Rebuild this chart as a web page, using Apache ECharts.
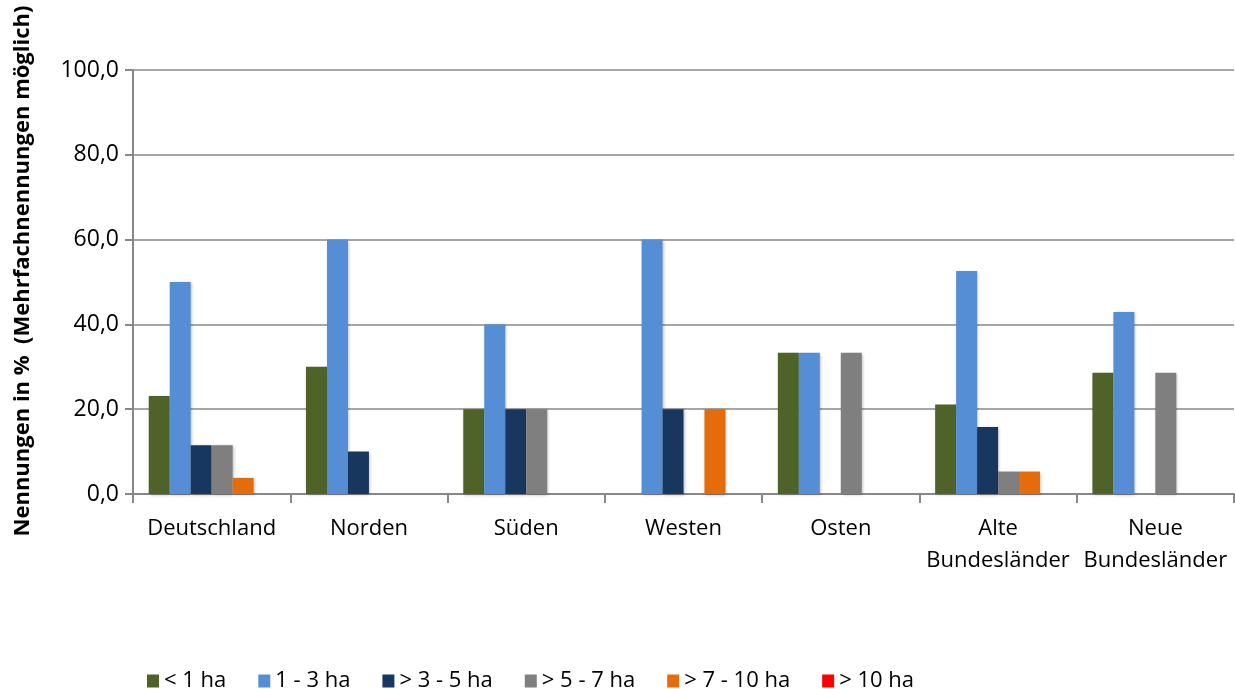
<!DOCTYPE html>
<html><head><meta charset="utf-8">
<script src="https://cdn.jsdelivr.net/npm/echarts@6/dist/echarts.min.js"></script>
<style>html,body{margin:0;padding:0;background:#fff}#c{width:1235px;height:689px}</style>
</head><body><div id="c"></div>
<script>
const categories = ['Deutschland','Norden','Süden','Westen','Osten','Alte\nBundesländer','Neue\nBundesländer'];
const seriesNames = ['< 1 ha','1 - 3 ha','> 3 - 5 ha','> 5 - 7 ha','> 7 - 10 ha','> 10 ha'];
const colors = ['#4F6228','#558ED5','#17375E','#7F7F7F','#E46C0A','#FF0000'];
const lt1 = [23.1, 30.0, 20.0, 0, 33.3, 21.1, 28.6];
const ha1_3 = [50.0, 60.0, 40.0, 60.0, 33.3, 52.6, 42.9];
const ha3_5 = [11.5, 10.0, 20.0, 20.0, 0, 15.8, 0];
const ha5_7 = [11.5, 0, 20.0, 0, 33.3, 5.3, 28.6];
const ha7_10 = [3.8, 0, 0, 20.0, 0, 5.3, 0];
const gt10 = [0, 0, 0, 0, 0, 0, 0];
const yTicks = [0, 20, 40, 60, 80, 100];
const values = [lt1, ha1_3, ha3_5, ha5_7, ha7_10, gt10];
const yTitle = 'Nennungen in %  (Mehrfachnennungen möglich)';

const font = '"Open Sans", sans-serif';
const chart = echarts.init(document.getElementById('c'));
chart.setOption({
  animation: false,
  grid: {left: 133, right: 1, top: 70, bottom: 195, containLabel: false},
  graphic: [{
    type: 'text', x: 23, y: 271, rotation: Math.PI / 2,
    style: {text: yTitle, fontFamily: font, fontSize: 22, fontWeight: 'bold', fill: '#000',
      textAlign: 'center', textVerticalAlign: 'middle'}
  }],
  legend: {
    top: 665, left: 142,
    itemWidth: 12, itemHeight: 13, itemGap: 32,
    icon: 'rect',
    textStyle: {fontFamily: font, fontSize: 22, color: '#000', padding: [0,0,0,0]},
    data: seriesNames
  },
  xAxis: {
    type: 'category', data: categories,
    axisLine: {lineStyle: {color: '#888', width: 2}},
    axisTick: {show: true, length: 9, lineStyle: {color: '#888', width: 2}},
    axisLabel: {fontFamily: font, fontSize: 22, color: '#000', margin: 19, lineHeight: 32, interval: 0}
  },
  yAxis: {
    type: 'value', min: 0, max: 100, interval: 20,
    axisLine: {show: true, lineStyle: {color: '#888', width: 2}},
    axisTick: {show: true, length: 8, lineStyle: {color: '#888', width: 2}},
    splitLine: {lineStyle: {color: '#888', width: 1.5}},
    axisLabel: {fontFamily: font, fontSize: 23, color: '#000', margin: 14,
      formatter: v => v.toFixed(1).replace('.', ',')}
  },
  series: seriesNames.map((n, i) => ({
    name: n, type: 'bar', data: values[i],
    barGap: '0%', barCategoryGap: '20%',
    itemStyle: {color: colors[i], shadowColor: 'rgba(0,0,0,0.3)', shadowBlur: 3, shadowOffsetX: 1, shadowOffsetY: 1}
  }))
});
</script></body></html>
